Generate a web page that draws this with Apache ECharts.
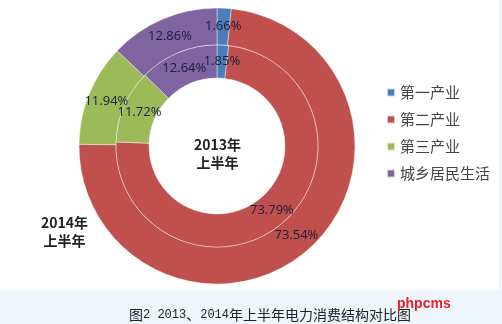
<!DOCTYPE html>
<html><head><meta charset="utf-8">
<script src="https://cdn.jsdelivr.net/npm/echarts@6/dist/echarts.min.js"></script>
<style>html,body{margin:0;padding:0;background:#fff}#c{width:502px;height:324px}</style>
</head><body><div id="c"></div>
<script>
var categories = ['第一产业', '第二产业', '第三产业', '城乡居民生活'];
var values2014 = [1.66, 73.54, 11.94, 12.86];
var values2013 = [1.85, 73.79, 11.72, 12.64];
var colors = ['#4a7ebb', '#c0504d', '#9bbb59', '#8064a2'];
var caption = '图2 2013、2014年上半年电力消费结构对比图';

var CX = 217, CY = 146;
var R_OUTER = [101, 138], R_INNER = [68, 101];

function toData(vals) {
  return categories.map(function (c, i) { return { name: c, value: vals[i] }; });
}
// place each label at its slice's mid angle / mid radius (clockwise from 12 o'clock)
function midLayout(vals, radii) {
  var total = vals.reduce(function (a, b) { return a + b; }, 0);
  return function (params) {
    var before = 0;
    for (var i = 0; i < params.dataIndex; i++) before += vals[i];
    var ang = (before + vals[params.dataIndex] / 2) / total * Math.PI * 2;
    var r = (radii[0] + radii[1]) / 2;
    return { x: CX + r * Math.sin(ang), y: CY - r * Math.cos(ang), align: 'center', verticalAlign: 'middle', hideOverlap: false };
  };
}
var labelStyle = {
  show: true, position: 'inside', formatter: function (p) { return p.value.toFixed(2) + '%'; },
  color: '#1c1c3a', fontSize: 13, fontFamily: 'Open Sans, Liberation Sans, sans-serif'
};
var captionRich = caption.replace(/([0-9 ]+)/g, '{m|$1}');
var chart = echarts.init(document.getElementById('c'));
chart.setOption({
  backgroundColor: '#ffffff',
  color: colors,
  animation: false,
  graphic: [
    { type: 'rect', shape: { x: 0, y: 290, width: 502, height: 34 }, style: { fill: '#eef6fc' }, z: -10 },
    { type: 'rect', shape: { x: 499, y: 0, width: 3, height: 324 }, style: { fill: '#eef6fc' }, z: -10 },
    { type: 'text', left: 194, top: 136, style: { text: '2013年\n上半年', font: 'bold 14px "Noto Sans CJK SC", sans-serif', fill: '#222', textAlign: 'center', lineHeight: 18 } },
    { type: 'text', left: 41, top: 214, style: { text: '2014年\n上半年', font: 'bold 14px "Noto Sans CJK SC", sans-serif', fill: '#222', textAlign: 'center', lineHeight: 18 } },
    { type: 'text', left: 397, top: 297, style: { text: 'phpcms', font: 'bold 14px "Liberation Sans", Arial, sans-serif', fill: '#e8202a' }, z: 20 }
  ],
  title: {
    text: captionRich, left: 124, top: 303,
    textStyle: {
      fontSize: 14, fontWeight: 'normal', color: '#222', fontFamily: '"Noto Sans CJK SC", sans-serif',
      rich: { m: { fontSize: 12, fontFamily: '"Liberation Mono", "DejaVu Sans Mono", monospace', color: '#222' } }
    }
  },
  legend: {
    orient: 'vertical', left: 381, top: 80, itemWidth: 8, itemHeight: 8, itemGap: 12,
    icon: 'rect', data: categories,
    textStyle: { fontSize: 15, color: '#444', fontFamily: '"Noto Sans CJK SC", sans-serif' }
  },
  series: [
    {
      name: '2014年上半年', type: 'pie', center: [CX, CY], radius: R_OUTER,
      startAngle: 90, clockwise: true, data: toData(values2014),
      label: labelStyle, labelLine: { show: false }, labelLayout: midLayout(values2014, R_OUTER),
      itemStyle: { borderColor: 'rgba(255,255,255,0.7)', borderWidth: 0.6 },
      emphasis: { disabled: true }
    },
    {
      name: '2013年上半年', type: 'pie', center: [CX, CY], radius: R_INNER,
      startAngle: 90, clockwise: true, data: toData(values2013),
      label: labelStyle, labelLine: { show: false }, labelLayout: midLayout(values2013, R_INNER),
      itemStyle: { borderColor: 'rgba(255,255,255,0.7)', borderWidth: 0.6 },
      emphasis: { disabled: true }
    }
  ]
});
</script></body></html>
